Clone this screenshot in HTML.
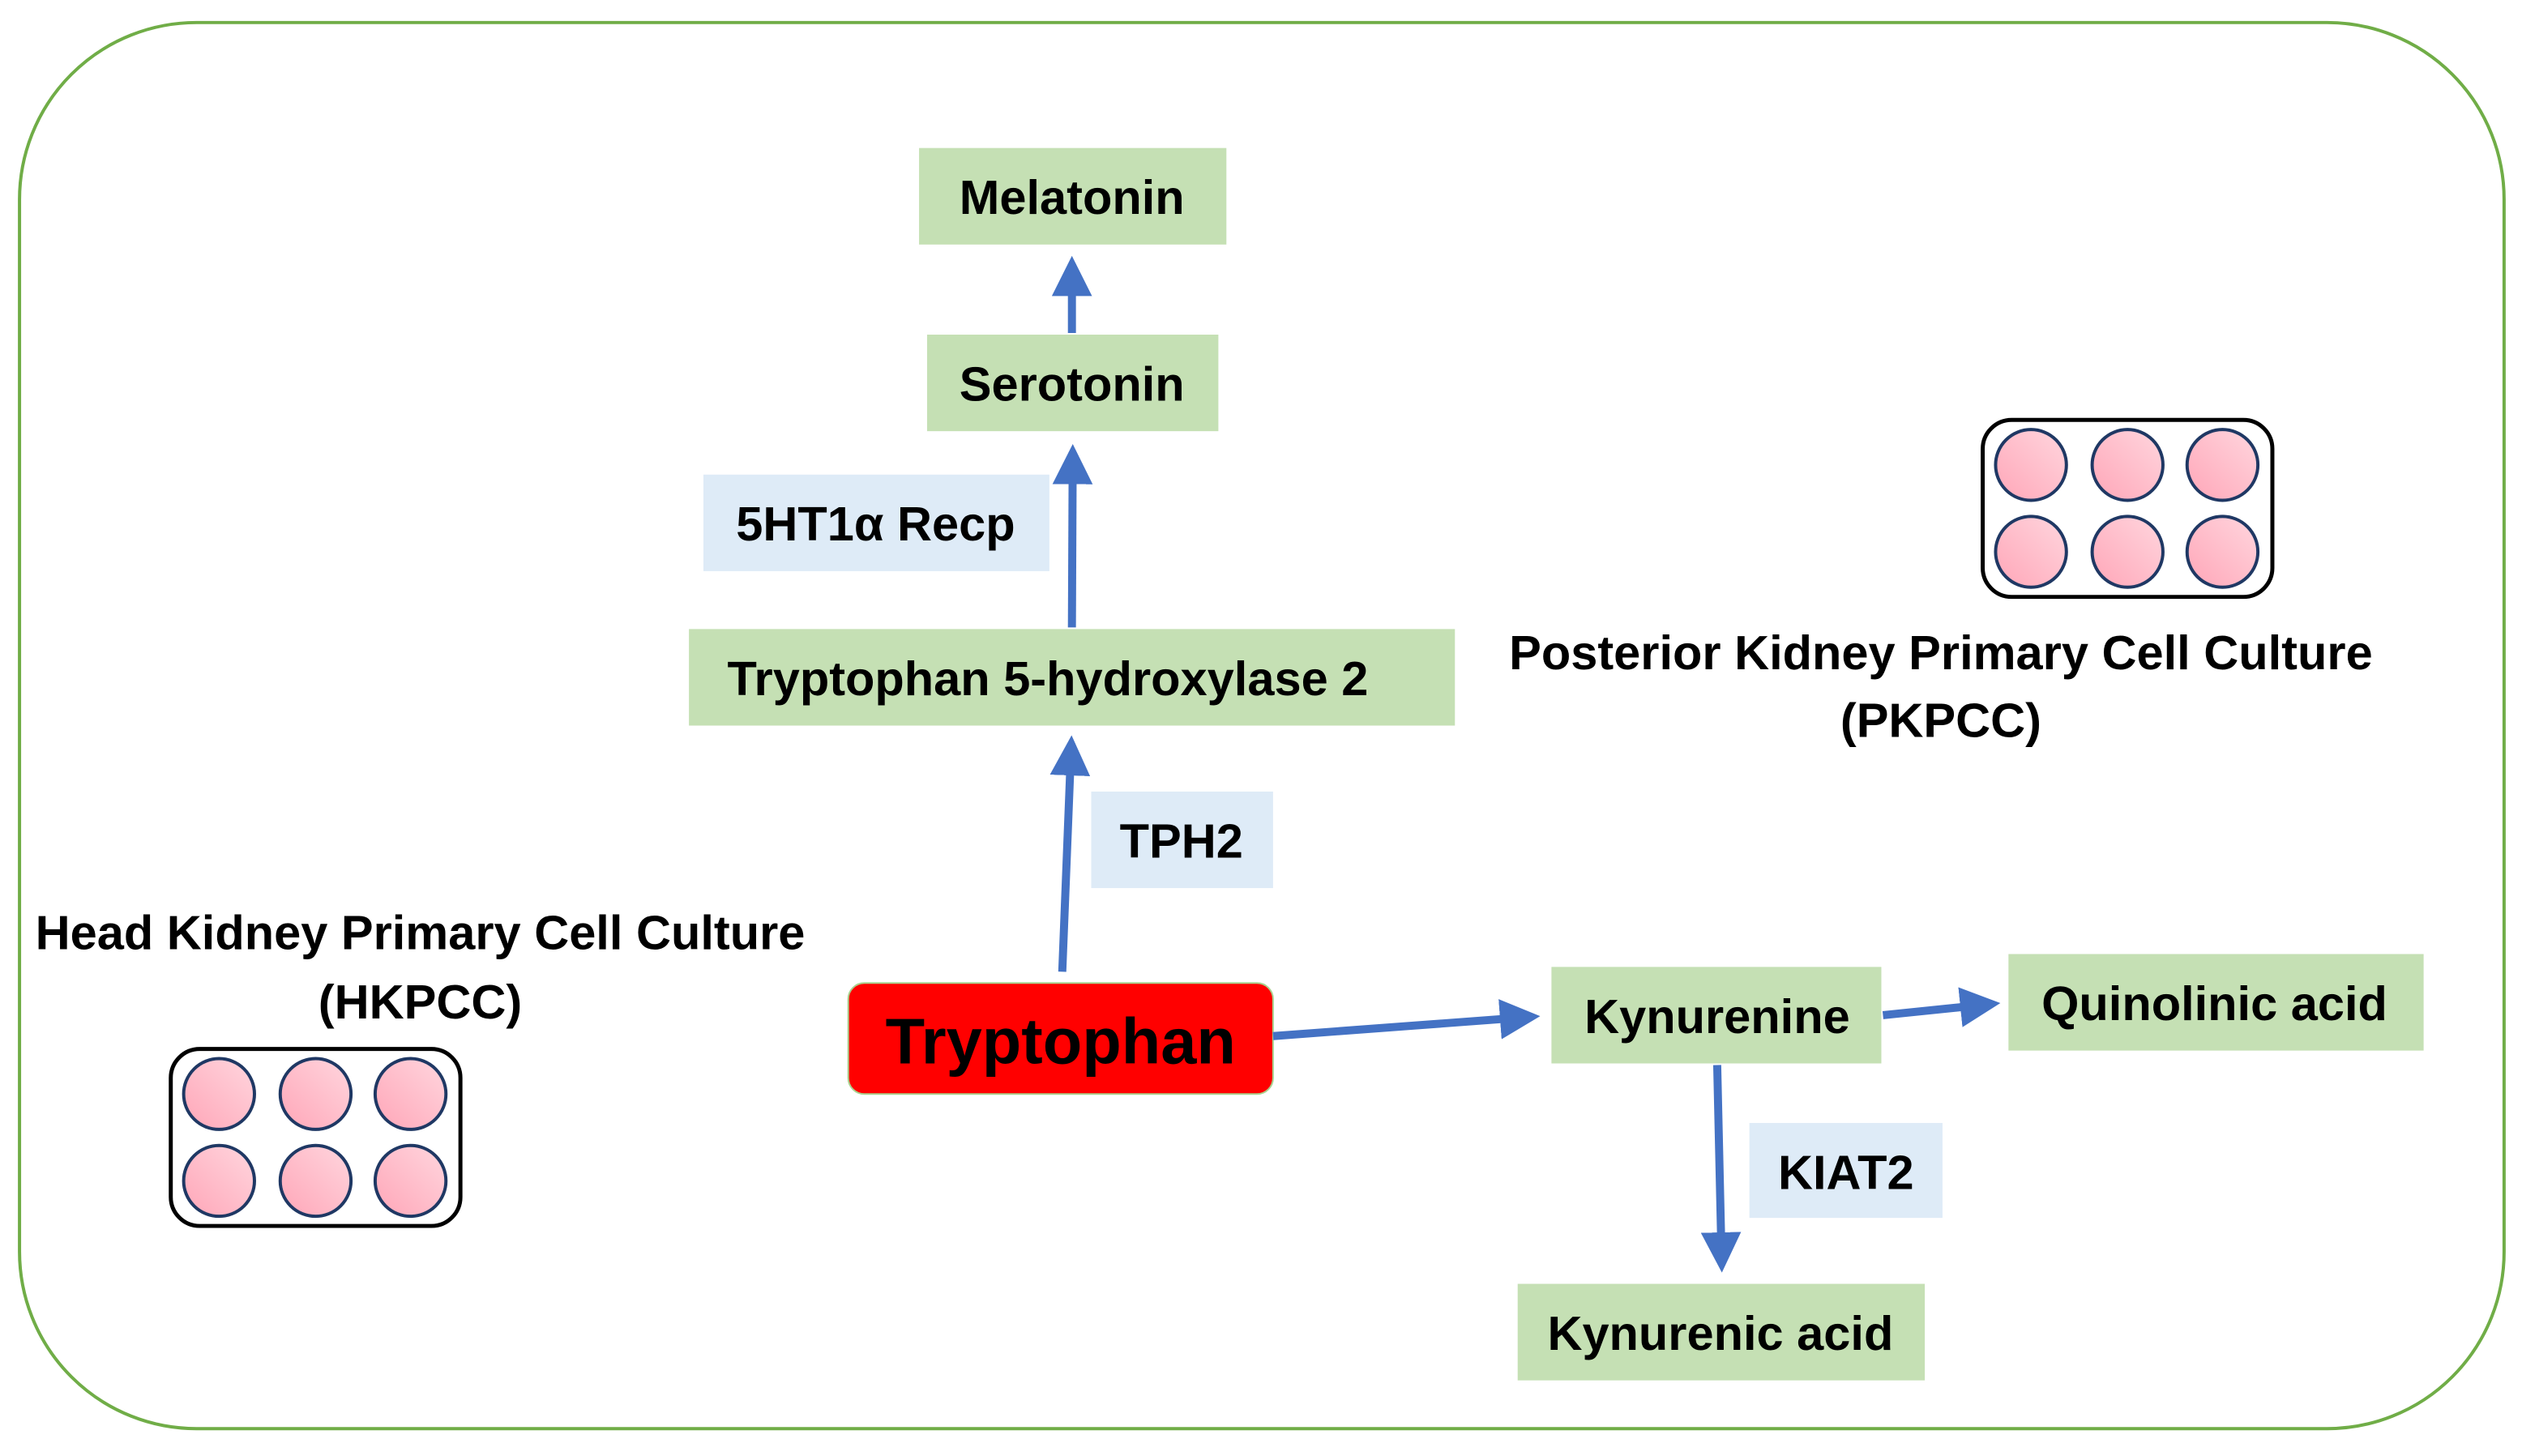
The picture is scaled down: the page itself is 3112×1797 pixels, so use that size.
<!DOCTYPE html>
<html><head><meta charset="utf-8"><style>
html,body{margin:0;padding:0;background:#fff;}
svg{display:block;}
text{font-family:"Liberation Sans",sans-serif;font-weight:bold;fill:#000;}
</style></head><body>
<svg width="3112" height="1797" viewBox="0 0 1567 905" xmlns="http://www.w3.org/2000/svg">
<defs>
<linearGradient id="pg" x1="1" y1="0" x2="0" y2="1">
<stop offset="0" stop-color="#ffd6de"/><stop offset="1" stop-color="#ffa6b8"/>
</linearGradient>
<marker id="ah" markerWidth="5" markerHeight="5" refX="4" refY="2.5" orient="auto" markerUnits="strokeWidth">
<path d="M0,0 L5,2.5 L0,5 z" fill="#4472c4"/>
</marker>
<g id="plate">
<rect x="0" y="0" width="180" height="110" rx="18" fill="#fff" stroke="#000" stroke-width="2.5"/>
<g fill="url(#pg)" stroke="#1f3864" stroke-width="2">
<circle cx="30" cy="28" r="22"/><circle cx="90" cy="28" r="22"/><circle cx="149" cy="28" r="22"/>
<circle cx="30" cy="82" r="22"/><circle cx="90" cy="82" r="22"/><circle cx="149" cy="82" r="22"/>
</g>
</g>
</defs>
<rect x="12" y="14" width="1544" height="874" rx="110" fill="#fff" stroke="#70ad47" stroke-width="2"/>

<g fill="#c5e0b4">
<rect x="571" y="92" width="191" height="60"/>
<rect x="576" y="208" width="181" height="60"/>
<rect x="428" y="391" width="476" height="60"/>
<rect x="964" y="601" width="205" height="60"/>
<rect x="1248" y="593" width="258" height="60"/>
<rect x="943" y="798" width="253" height="60"/>
</g>
<g fill="#deebf7">
<rect x="437" y="295" width="215" height="60"/>
<rect x="678" y="492" width="113" height="60"/>
<rect x="1087" y="698" width="120" height="59"/>
</g>
<rect x="527" y="611" width="264" height="69" rx="10" fill="#ff0000" stroke="#a9d18e" stroke-width="1"/>

<g stroke="#4472c4" stroke-width="5" fill="none" marker-end="url(#ah)">
<line x1="660" y1="604" x2="665.6" y2="462"/>
<line x1="666" y1="390" x2="666.5" y2="281"/>
<line x1="666" y1="207" x2="666" y2="164"/>
<line x1="791" y1="644" x2="952" y2="632"/>
<line x1="1170" y1="631" x2="1238" y2="624"/>
<line x1="1067" y1="662" x2="1069.8" y2="786"/>
</g>

<g font-size="30" text-anchor="middle">
<text x="666" y="133">Melatonin</text>
<text x="666" y="249">Serotonin</text>
<text x="544" y="336">5HT1α Recp</text>
<text x="651" y="432">Tryptophan 5-hydroxylase 2</text>
<text x="734" y="533">TPH2</text>
<text x="1067" y="642">Kynurenine</text>
<text x="1376" y="634">Quinolinic acid</text>
<text x="1147" y="739">KIAT2</text>
<text x="1069" y="839">Kynurenic acid</text>
<text x="659" y="661" font-size="40">Tryptophan</text>
<text x="261" y="590" font-size="30">Head Kidney Primary Cell Culture</text>
<text x="261" y="633" font-size="30">(HKPCC)</text>
<text x="1206" y="416" font-size="30">Posterior Kidney Primary Cell Culture</text>
<text x="1206" y="458" font-size="30">(PKPCC)</text>
</g>

<use href="#plate" x="106" y="652"/>
<use href="#plate" x="1232" y="261"/>
</svg>
</body></html>
